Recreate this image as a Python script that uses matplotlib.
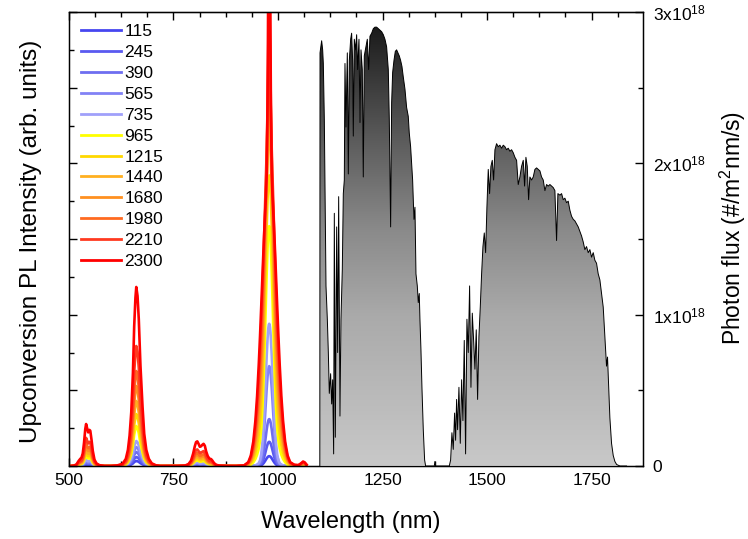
import numpy as np
import matplotlib
matplotlib.use('Agg')
import matplotlib.pyplot as plt
from matplotlib.ticker import MultipleLocator, NullFormatter, FuncFormatter
from matplotlib.colors import LinearSegmentedColormap

plt.rcParams['font.family'] = ['Liberation Sans', 'DejaVu Sans']
plt.rcParams['mathtext.fontset'] = 'custom'
plt.rcParams['mathtext.rm'] = 'Liberation Sans'
plt.rcParams['mathtext.default'] = 'regular'

# excitation power of each PL spectrum (legend entries)
powers = ['115', '245', '390', '565', '735', '965',
          '1215', '1440', '1680', '1980', '2210', '2300']
line_colors = ['#4646f0', '#5a5af0', '#6e6ef0', '#8282f5', '#a0a0fa', '#ffff00',
               '#ffd800', '#ffb020', '#ff9020', '#ff6a20', '#ff3a20', '#ff0000']

# normalised line shapes of the emission bands
wl_545 = [505, 512, 518, 523, 527, 530, 533, 536, 539, 541, 544, 546, 549,
          551, 554, 557, 561, 566, 573, 585, 598]
shape_545 = [0, 0.01, 0.04, 0.12, 0.17, 0.2, 0.3, 0.55, 0.88, 1.0, 0.88, 0.8,
             0.86, 0.84, 0.62, 0.36, 0.15, 0.06, 0.02, 0, 0]

wl_660 = [600, 615, 628, 636, 641, 645, 649, 653, 656, 659, 661, 664, 667,
          671, 676, 680, 685, 691, 698, 708, 718]
shape_660 = [0, 0.003, 0.012, 0.04, 0.09, 0.17, 0.3, 0.52, 0.78, 0.94, 1.0,
             0.95, 0.82, 0.56, 0.33, 0.18, 0.09, 0.04, 0.015, 0.004, 0]

wl_810 = [718, 760, 778, 786, 792, 797, 801, 804, 807, 810, 813, 816, 819,
          822, 825, 828, 832, 836, 840, 843, 847, 852, 860, 880, 900]
shape_810 = [0, 0.002, 0.02, 0.08, 0.22, 0.5, 0.8, 0.97, 1.0, 0.9, 0.78, 0.8,
             0.86, 0.9, 0.82, 0.6, 0.4, 0.3, 0.28, 0.22, 0.12, 0.05, 0.015,
             0.002, 0]

# the 980 nm band: main line, broad wings and the sharp line on top
wl_980 = [900, 919, 929, 935, 941, 946, 950, 954, 957, 960, 963, 966, 969,
          971, 973, 975, 976, 977, 978, 979, 980, 981, 982, 983, 985, 987,
          989, 992, 995, 998, 1001, 1004, 1008, 1012, 1017, 1023, 1029, 1039,
          1049, 1056, 1060, 1064, 1068]
core_980 = [0, 0, 0, 0, 0.002, 0.005, 0.01, 0.02, 0.04, 0.082, 0.17, 0.311,
            0.5, 0.642, 0.78, 0.895, 0.94, 0.973, 0.993, 1.0, 0.993, 0.973,
            0.94, 0.895, 0.78, 0.642, 0.5, 0.311, 0.17, 0.082, 0.04, 0.02,
            0.01, 0.005, 0.002, 0, 0, 0, 0, 0, 0, 0, 0]
wing_980 = [0, 0.002, 0.013, 0.035, 0.082, 0.152, 0.233, 0.339, 0.433, 0.536,
            0.642, 0.746, 0.841, 0.895, 0.94, 0.973, 0.984, 0.993, 0.998, 1.0,
            0.998, 0.993, 0.984, 0.973, 0.94, 0.895, 0.841, 0.746, 0.642,
            0.536, 0.433, 0.339, 0.233, 0.152, 0.082, 0.035, 0.013, 0.004,
            0.003, 0.01, 0.015, 0.012, 0.005]
spike_980 = [0, 0, 0, 0, 0, 0, 0, 0, 0, 0, 0, 0, 0, 0.002, 0.033, 0.22,
             0.427, 0.685, 0.91, 1.0, 0.91, 0.685, 0.427, 0.22, 0.033, 0.002,
             0, 0, 0, 0, 0, 0, 0, 0, 0, 0, 0, 0, 0, 0, 0, 0, 0]

# peak heights (arb. units) of each component for each power
amp_545 = [0.015, 0.028, 0.043, 0.059, 0.077, 0.124, 0.161, 0.2, 0.248, 0.294, 0.372, 0.555]
amp_660 = [0.066, 0.119, 0.185, 0.251, 0.33, 0.529, 0.687, 0.859, 1.057, 1.255, 1.586, 2.366]
amp_810 = [0.009, 0.016, 0.026, 0.035, 0.046, 0.073, 0.095, 0.119, 0.146, 0.173, 0.219, 0.326]
amp_core = [0.13, 0.32, 0.62, 1.32, 1.88, 2.64, 2.78, 2.64, 2.38, 1.98, 1.32, 0.0]
amp_wing = [0, 0, 0, 0, 0, 0.53, 1.06, 1.59, 2.11, 2.64, 3.30, 3.96]
amp_spike = [0, 0, 0, 0, 0, 0, 0, 0.4, 0.79, 1.19, 1.59, 4.23]

# AM1.5 photon flux, units of 1e18 #/m2/nm/s
sun_wl = [1100.0, 1100.5, 1104.4, 1106.8, 1108.4, 1110.8, 1112.4, 1114.8, 1118.0,
          1120.4, 1122.7, 1125.9, 1128.3, 1130.7, 1133.1, 1134.7, 1137.1, 1140.3,
          1142.7, 1145.1, 1148.2, 1150.6, 1153.8, 1156.2, 1158.6, 1160.2, 1162.6,
          1165.8, 1168.2, 1170.6, 1173.8, 1176.1, 1178.5, 1180.1, 1182.5, 1185.7,
          1188.1, 1190.5, 1193.7, 1196.1, 1198.5, 1201.6, 1204.0, 1206.4, 1210.4,
          1213.6, 1216.8, 1220.0, 1224.0, 1228.0, 1231.9, 1235.9, 1239.9, 1243.9,
          1247.9, 1251.9, 1255.8, 1259.8, 1263.8, 1266.2, 1269.4, 1271.8, 1274.2,
          1277.4, 1280.6, 1283.7, 1286.9, 1290.1, 1293.3, 1296.5, 1299.7, 1303.7,
          1307.6, 1311.6, 1314.0, 1317.2, 1319.6, 1322.0, 1325.2, 1327.6, 1330.0,
          1333.2, 1335.5, 1337.9, 1339.5, 1341.9, 1344.3, 1347.5, 1350.7, 1353.1,
          1373.8, 1375.4, 1377.0, 1409.7, 1412.9, 1416.0, 1419.2, 1422.4, 1424.8,
          1427.2, 1429.6, 1432.8, 1436.0, 1439.2, 1442.3, 1445.5, 1448.7, 1451.9,
          1455.1, 1458.3, 1461.5, 1464.7, 1467.9, 1471.0, 1474.2, 1477.4, 1480.6,
          1483.8, 1487.0, 1490.2, 1493.4, 1496.6, 1499.7, 1502.9, 1506.1, 1509.3,
          1512.5, 1515.7, 1518.9, 1522.8, 1526.8, 1530.8, 1534.8, 1538.8, 1542.8,
          1546.7, 1550.7, 1554.7, 1558.7, 1562.7, 1566.7, 1570.7, 1574.6, 1578.6,
          1582.6, 1586.6, 1589.8, 1593.0, 1596.2, 1599.4, 1602.5, 1606.5, 1610.5,
          1614.5, 1618.5, 1622.5, 1626.5, 1630.4, 1634.4, 1638.4, 1642.4, 1646.4,
          1650.4, 1654.3, 1658.3, 1662.3, 1666.3, 1669.5, 1674.3, 1678.3, 1682.2,
          1686.2, 1690.2, 1694.2, 1698.2, 1702.2, 1706.2, 1710.1, 1714.1, 1718.1,
          1722.1, 1726.1, 1730.1, 1734.0, 1738.0, 1742.0, 1746.0, 1750.0, 1754.0,
          1757.9, 1761.9, 1765.9, 1769.9, 1773.9, 1777.9, 1781.9, 1785.8, 1788.2,
          1790.6, 1793.8, 1797.8, 1801.8, 1805.8, 1810.0, 1818.0, 1833.7]
sun_flux = [0.0, 2.73, 2.81, 2.75, 2.66, 2.29, 1.85, 1.19, 0.97,
            0.75, 0.48, 0.61, 0.41, 0.57, 0.08, 1.67, 0.19, 1.58,
            0.75, 1.78, 0.33, 0.97, 1.30, 1.80, 1.89, 2.66, 2.24,
            2.73, 1.93, 2.68, 2.82, 2.86, 2.68, 2.18, 2.82, 2.75,
            2.85, 2.62, 2.82, 2.27, 2.75, 2.62, 1.91, 2.71, 2.77,
            2.82, 2.62, 2.84, 2.86, 2.89, 2.90, 2.90, 2.89, 2.88,
            2.87, 2.85, 2.82, 2.77, 2.62, 2.29, 1.58, 2.40, 2.60,
            2.68, 2.74, 2.75, 2.73, 2.71, 2.68, 2.64, 2.57, 2.49,
            2.37, 2.31, 2.20, 2.11, 2.00, 1.89, 1.63, 1.71, 1.27,
            1.19, 1.08, 1.14, 0.97, 0.77, 0.52, 0.24, 0.04, 0.0,
            0.0, 0.03, 0.0, 0.0, 0.04, 0.22, 0.11, 0.35, 0.17,
            0.44, 0.24, 0.52, 0.15, 0.57, 0.30, 0.83, 0.08, 0.97,
            0.75, 1.19, 0.52, 1.01, 0.83, 0.64, 0.90, 0.44, 0.855,
            1.05, 1.27, 1.45, 1.54, 1.41, 1.71, 1.96, 1.80, 1.98,
            2.02, 1.89, 2.09, 2.13, 2.11, 2.12, 2.10, 2.12, 2.11,
            2.09, 2.10, 2.08, 2.09, 2.07, 2.04, 2.02, 1.86, 1.91,
            1.98, 2.02, 1.85, 2.04, 1.98, 1.76, 1.91, 1.89, 1.91,
            1.96, 1.97, 1.96, 1.95, 1.91, 1.89, 1.82, 1.86, 1.85,
            1.86, 1.85, 1.84, 1.82, 1.49, 1.80, 1.79, 1.80, 1.76,
            1.77, 1.74, 1.75, 1.69, 1.65, 1.63, 1.62, 1.60, 1.58,
            1.55, 1.52, 1.48, 1.43, 1.45, 1.41, 1.43, 1.38, 1.41,
            1.36, 1.34, 1.27, 1.23, 1.14, 1.05, 0.85, 0.66, 0.72,
            0.55, 0.32, 0.15, 0.07, 0.03, 0.01, 0.0, 0.0]

fig = plt.figure(figsize=(7.48, 5.39), dpi=100)
ax = fig.add_axes([0.0922, 0.1354, 0.7674, 0.8423])

wl_pl = np.concatenate([wl_545, wl_660, wl_810, wl_980])
for i, p in enumerate(powers):
    band_980 = (amp_core[i] * np.array(core_980) + amp_wing[i] * np.array(wing_980)
                + amp_spike[i] * np.array(spike_980))
    spec = np.concatenate([amp_545[i] * np.array(shape_545),
                           amp_660[i] * np.array(shape_660),
                           amp_810[i] * np.array(shape_810),
                           band_980])
    ax.plot(wl_pl, spec, color=line_colors[i], lw=1.9, label=p)

ax.set_xlim(500, 1873)
ax.set_ylim(0, 6)
ax.xaxis.set_major_locator(MultipleLocator(250))
ax.xaxis.set_minor_locator(MultipleLocator(125))
ax.yaxis.set_major_locator(MultipleLocator(1))
ax.yaxis.set_minor_locator(MultipleLocator(0.5))
ax.yaxis.set_major_formatter(NullFormatter())
ax.tick_params(which='both', direction='in', top=False, right=False, width=1)
ax.tick_params(which='major', length=6, labelsize=12.5, pad=5)
ax.tick_params(which='minor', length=3.5)
for s in ax.spines.values():
    s.set_linewidth(1.0)

ax.set_xlabel('Wavelength (nm)', fontsize=17)
ax.xaxis.set_label_coords(0.491, -0.099)
ax.set_ylabel('Upconversion PL Intensity (arb. units)', fontsize=17.5)
ax.yaxis.set_label_coords(-0.047, 0.495)

leg = ax.legend(loc='upper left', frameon=False, fontsize=12.5, handlelength=2.3,
                handletextpad=0.2, labelspacing=0.33, borderaxespad=0.45,
                borderpad=0.25)
for h in leg.get_lines():
    h.set_linewidth(2)

top = ax.secondary_xaxis('top')
top.xaxis.set_major_locator(MultipleLocator(250))
top.xaxis.set_minor_locator(MultipleLocator(62.5))
top.xaxis.set_major_formatter(NullFormatter())
top.tick_params(which='both', direction='in', width=1)
top.tick_params(which='major', length=6)
top.tick_params(which='minor', length=3.5)

# solar spectrum on the right axis, filled with a vertical grey gradient
ax2 = ax.twinx()
shade = LinearSegmentedColormap.from_list(
    'shade', [(0.0, '#c8c8c8'), (0.33, '#aaaaaa'), (0.52, '#8a8a8a'),
              (0.7, '#606060'), (0.85, '#3a3a3a'), (0.97, '#1a1a1a'),
              (1.0, '#111111')])
region = ax2.fill(sun_wl, sun_flux, facecolor='none', edgecolor='none')[0]
grad = np.linspace(0, 1, 256).reshape(-1, 1)
im = ax2.imshow(grad, extent=[1095, 1840, 0, 3], origin='lower', aspect='auto',
                cmap=shade, zorder=1)
im.set_clip_path(region)
ax2.plot(sun_wl, sun_flux, color='black', lw=0.7, zorder=2)

ax2.set_xlim(500, 1873)
ax2.set_ylim(0, 3)
ax2.yaxis.set_major_locator(MultipleLocator(1))
ax2.yaxis.set_minor_locator(MultipleLocator(0.5))
ax2.yaxis.set_major_formatter(FuncFormatter(
    lambda v, pos: '0' if v == 0 else r'$\mathregular{%dx10^{18}}$' % round(v)))
ax2.tick_params(which='both', direction='in', width=1)
ax2.tick_params(which='major', length=6, labelsize=12.5, pad=7)
ax2.tick_params(which='minor', length=3.5)
ax2.set_ylabel('Photon flux (#/m$^2$nm/s)', fontsize=16.5)
ax2.yaxis.set_label_coords(1.131, 0.524)

fig.savefig('out.png', dpi=100)
